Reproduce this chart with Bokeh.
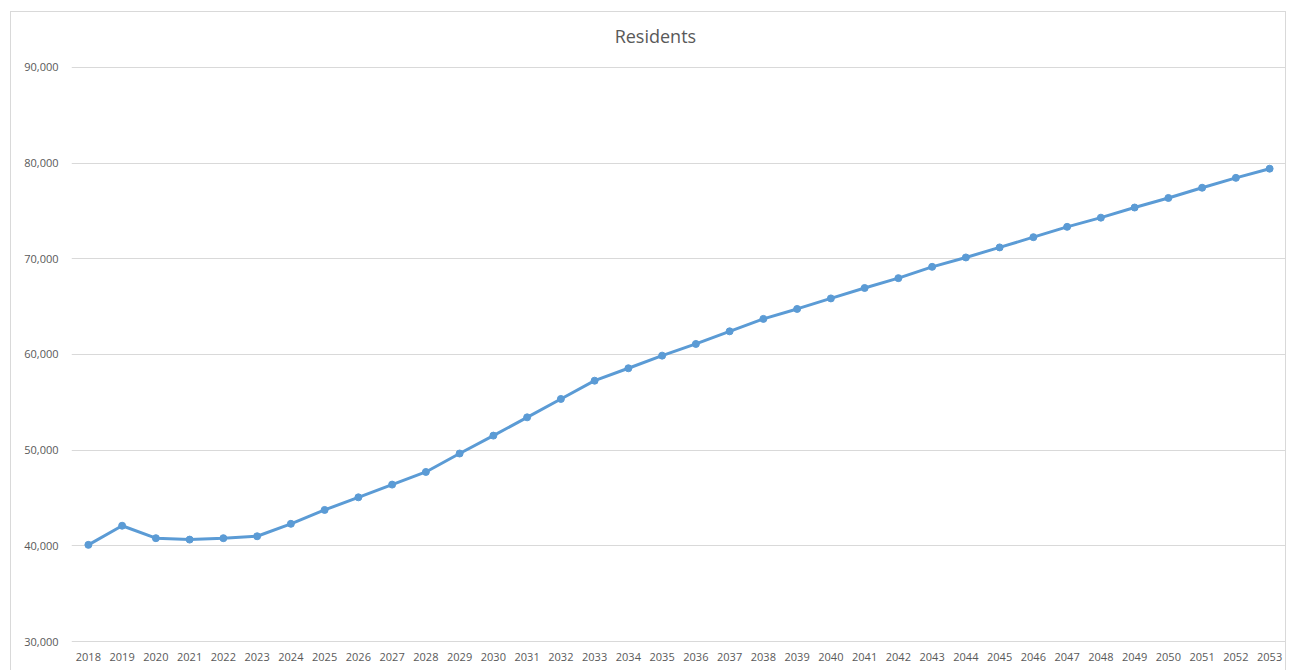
from bokeh.plotting import figure
from bokeh.models import Range1d, FixedTicker, Label, NumeralTickFormatter
from bokeh.embed import file_html
from bokeh.resources import INLINE

years = [str(y) for y in range(2018, 2054)]
residents = [40100, 42100, 40800, 40650, 40800, 41000, 42300, 43750, 45070, 46400,
             47720, 49650, 51520, 53430, 55350, 57260, 58560, 59880, 61100, 62420,
             63720, 64760, 65860, 66950, 67980, 69160, 70140, 71190, 72260, 73340,
             74300, 75360, 76360, 77430, 78460, 79420]
y_ticks = [30000, 40000, 50000, 60000, 70000, 80000, 90000]
title_text = "Residents"

xs = list(range(len(years)))
px_per_unit = 95.75 / 10000.0  # screen pixels per resident

p = figure(width=1276, height=659, output_backend="svg", toolbar_location=None,
           x_range=Range1d(-0.5, len(years) - 0.5),
           y_range=Range1d(30000 - 2 / px_per_unit, 90000 + 55 / px_per_unit),
           min_border_left=60, min_border_right=1, min_border_top=0, min_border_bottom=28,
           margin=(11, 0, 0, 10))
p.styles = {"border": "1px solid #d9d9d9", "border-bottom": "none"}
p.outline_line_color = None
p.background_fill_color = "white"
p.border_fill_color = "white"

p.line(xs, residents, line_color="#5B9BD5", line_width=3)
p.scatter(xs, residents, size=7, fill_color="#5B9BD5", line_color="#5B9BD5")

p.xaxis.ticker = FixedTicker(ticks=xs)
p.xaxis.major_label_overrides = {i: y for i, y in enumerate(years)}
p.yaxis.ticker = FixedTicker(ticks=y_ticks)
p.yaxis.formatter = NumeralTickFormatter(format="0,0")
for ax in (p.xaxis[0], p.yaxis[0]):
    ax.axis_line_color = None
    ax.major_tick_line_color = None
    ax.minor_tick_line_color = None
    ax.major_tick_out = 0
    ax.major_tick_in = 0
    ax.major_label_text_font = "Open Sans"
    ax.major_label_text_font_size = "11px"
    ax.major_label_text_color = "#595959"
p.xaxis.major_label_standoff = 9
p.yaxis.major_label_standoff = 13

p.xgrid.grid_line_color = None
p.ygrid.grid_line_color = "#d9d9d9"
p.ygrid.grid_line_width = 1

p.add_layout(Label(x=16.8, y=90000 + 31 / px_per_unit, text=title_text, text_align="center",
                   text_baseline="middle", text_font="Open Sans",
                   text_font_size="18px", text_color="#595959"))

open("out.html", "w").write(file_html(p, INLINE))
